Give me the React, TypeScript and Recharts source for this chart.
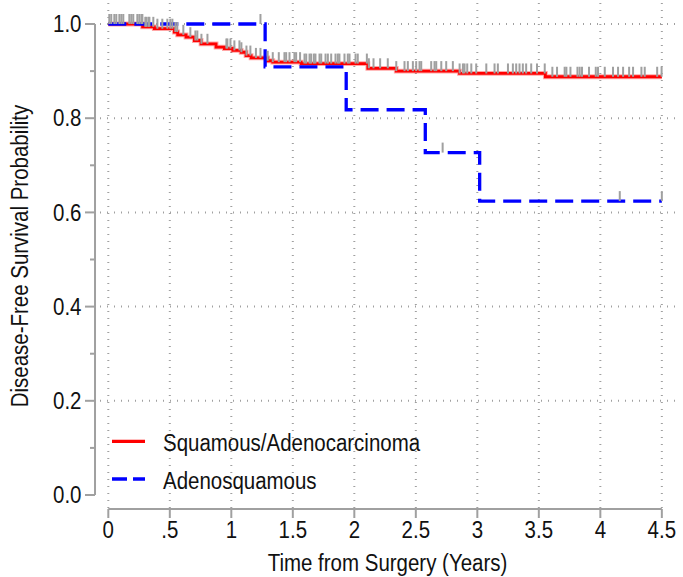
import React from "react";
import {
  ComposedChart,
  Line,
  Scatter,
  XAxis,
  YAxis,
  CartesianGrid,
  ReferenceLine,
  Legend,
} from "recharts";

// Kaplan-Meier steps (time in years, survival)
const RED_STEP_T = [0, 0.279, 0.374, 0.537, 0.564, 0.632, 0.7, 0.754, 0.876, 0.944, 1.012, 1.08, 1.12, 1.161, 1.296, 1.337, 1.568, 2.11, 2.341, 2.855, 3.553, 4.5];
const RED_STEP_S = [1.0, 0.994, 0.99, 0.983, 0.977, 0.972, 0.965, 0.958, 0.951, 0.948, 0.944, 0.94, 0.933, 0.928, 0.922, 0.919, 0.916, 0.906, 0.9, 0.895, 0.888, 0.888];

const BLUE_STEP_T = [0, 1.275, 1.934, 2.577, 3.019, 4.5];
const BLUE_STEP_S = [1.0, 0.909, 0.818, 0.727, 0.624, 0.624];

// censored observations
const RED_CENSOR_T = [
  0.008, 0.024, 0.049, 0.065, 0.09, 0.106, 0.122, 0.171, 0.187, 0.203, 0.236, 0.252, 0.269, 0.277,
  0.301, 0.309, 0.326, 0.334, 0.366, 0.399, 0.439, 0.48, 0.504, 0.521, 0.545, 0.561, 0.61, 0.667,
  0.708, 0.724, 0.757, 0.806, 0.96, 0.968, 0.993, 1.025, 1.066, 1.082, 1.123, 1.155,
  1.2, 1.237, 1.296, 1.337, 1.386, 1.432, 1.446, 1.473, 1.513, 1.527, 1.559, 1.595, 1.609, 1.636,
  1.649, 1.671, 1.684, 1.717, 1.731, 1.766, 1.785, 1.812, 1.847, 1.866, 1.879, 1.92, 1.947, 1.961,
  2.01, 2.028, 2.102, 2.118, 2.156, 2.21, 2.272, 2.341,
  2.408, 2.435, 2.476, 2.503, 2.53, 2.544, 2.625, 2.652, 2.666, 2.707, 2.747, 2.801, 2.856, 2.883,
  2.896, 2.918, 2.951, 2.991, 3.073, 3.14, 3.167, 3.249, 3.289, 3.316, 3.343, 3.37, 3.397, 3.438,
  3.485, 3.548, 3.61, 3.648, 3.71, 3.724, 3.757, 3.814, 3.832, 3.851, 3.908, 3.963, 3.981, 4.036,
  4.103, 4.144, 4.185, 4.234, 4.266, 4.334, 4.361, 4.462, 4.498,
];
const BLUE_CENSOR_T = [1.237, 2.718, 4.158, 4.5];

const X_TICKS = [0, 0.5, 1, 1.5, 2, 2.5, 3, 3.5, 4, 4.5];
const Y_TICKS = [0, 0.1, 0.2, 0.3, 0.4, 0.5, 0.6, 0.7, 0.8, 0.9, 1.0];
const Y_GRID = [0.2, 0.4, 0.6, 0.8, 1.0];

const SERIES = [
  { name: "Squamous/Adenocarcinoma", color: "#ff0000", dash: "" },
  { name: "Adenosquamous", color: "#0000ff", dash: "15 6" },
];

const X_DOMAIN = [-0.0675, 4.607];
const Y_DOMAIN = [-0.0297, 1.0446];
const Y_AXIS_AT = -0.108; // y axis sits left of the plot region
const AXIS_GRAY = "#a0a0a0";
const FONT = '"Liberation Sans", Arial, sans-serif';
const FONT_SIZE = 23;
const SQUEEZE = 0.89;

const toPoints = (ts: number[], ss: number[]) => ts.map((t, i) => ({ t, s: ss[i] }));

const survAt = (ts: number[], ss: number[], t: number) => {
  let v = ss[0];
  for (let i = 0; i < ts.length; i++) if (ts[i] <= t) v = ss[i];
  return v;
};

const redCurve = toPoints(RED_STEP_T, RED_STEP_S);
const blueCurve = toPoints(BLUE_STEP_T, BLUE_STEP_S);
const redCensor = RED_CENSOR_T.map((t) => ({ t, s: survAt(RED_STEP_T, RED_STEP_S, t) }));
const blueCensor = BLUE_CENSOR_T.map((t) => ({ t, s: survAt(BLUE_STEP_T, BLUE_STEP_S, t) }));

function CText({ x, y, anchor = "middle", rotate = 0, children }: any) {
  const tf = `translate(${x},${y})${rotate ? ` rotate(${rotate})` : ""} scale(${SQUEEZE},1)`;
  return (
    <text transform={tf} textAnchor={anchor} fontSize={FONT_SIZE} fontFamily={FONT} fill="#111">
      {children}
    </text>
  );
}

function YTick({ x, y, payload }: any) {
  const v = payload.value;
  const major = Math.round(v * 10) % 2 === 0;
  const ax = x - 5;
  return (
    <g>
      <line x1={ax - (major ? 10 : 5)} x2={ax} y1={y} y2={y} stroke={AXIS_GRAY} strokeWidth={2} />
      {major && <CText x={ax - 13.5} y={y + 8.2} anchor="end">{v.toFixed(1)}</CText>}
    </g>
  );
}

function XTick({ x, y, payload }: any) {
  const label = String(payload.value).replace(/^0\./, ".");
  return <CText x={x} y={y + 20.3}>{label}</CText>;
}

function YTitle({ viewBox }: any) {
  return (
    <CText x={viewBox.x + 28} y={viewBox.y + viewBox.height / 2} rotate={-90}>
      Disease-Free Survival Probability
    </CText>
  );
}

function XTitle({ viewBox }: any) {
  return (
    <CText x={viewBox.x + viewBox.width / 2} y={viewBox.y + 62}>
      Time from Surgery (Years)
    </CText>
  );
}

function KmLegend() {
  return (
    <svg width={360} height={80}>
      {SERIES.map((s, i) => {
        const cy = 21.3 + i * 37.7;
        return (
          <g key={s.name}>
            <line x1={12} x2={45} y1={cy} y2={cy} stroke={s.color} strokeWidth={3.3} strokeDasharray={s.dash || undefined} />
            <CText x={63} y={cy + 10} anchor="start">{s.name}</CText>
          </g>
        );
      })}
    </svg>
  );
}

const censorMark = (p: any) => (
  <rect x={p.cx - 1} y={p.cy - 10} width={2} height={10} fill={AXIS_GRAY} />
);

export default function App() {
  return (
    <div style={{ position: "absolute", left: 0, top: 0, background: "#fff" }}>
      <ComposedChart width={683} height={577} margin={{ top: 3, right: 8, bottom: 0, left: 0 }}>
        <CartesianGrid
          stroke={AXIS_GRAY}
          strokeWidth={2}
          strokeDasharray="1 6"
          horizontalValues={Y_GRID}
          verticalValues={X_TICKS}
        />
        <XAxis
          type="number"
          dataKey="t"
          domain={X_DOMAIN}
          allowDataOverflow
          ticks={X_TICKS}
          interval={0}
          axisLine={false}
          tickSize={9}
          tickMargin={0}
          tickLine={{ stroke: AXIS_GRAY, strokeWidth: 2 }}
          tick={<XTick />}
          height={68}
          label={<XTitle />}
        />
        <YAxis
          type="number"
          domain={Y_DOMAIN}
          allowDataOverflow
          ticks={Y_TICKS}
          interval={0}
          axisLine={false}
          tickLine={false}
          tickSize={0}
          tickMargin={0}
          tick={<YTick />}
          width={100}
          label={<YTitle />}
        />
        <ReferenceLine
          segment={[{ x: Y_AXIS_AT, y: 0 }, { x: Y_AXIS_AT, y: 1 }]}
          stroke={AXIS_GRAY}
          strokeWidth={2}
          ifOverflow="visible"
        />
        <ReferenceLine
          segment={[{ x: 0, y: Y_DOMAIN[0] }, { x: 4.5, y: Y_DOMAIN[0] }]}
          stroke={AXIS_GRAY}
          strokeWidth={2}
          ifOverflow="visible"
        />
        <Line data={redCurve} dataKey="s" type="stepAfter" stroke="#ff0000" strokeOpacity={0.35} strokeWidth={4.8} dot={false} activeDot={false} isAnimationActive={false} />
        <Line data={redCurve} dataKey="s" type="stepAfter" stroke="#ff0000" strokeWidth={2.8} dot={false} activeDot={false} isAnimationActive={false} />
        <Line data={blueCurve} dataKey="s" type="stepAfter" stroke="#0000ff" strokeWidth={3.3} strokeDasharray="18 8" dot={false} activeDot={false} isAnimationActive={false} />
        <Scatter data={redCensor} dataKey="s" shape={censorMark} isAnimationActive={false} />
        <Scatter data={blueCensor} dataKey="s" shape={censorMark} isAnimationActive={false} />
        <Legend
          layout="vertical"
          align="center"
          verticalAlign="middle"
          content={<KmLegend />}
          wrapperStyle={{ left: 100, top: 420, width: 360, height: 80 }}
        />
      </ComposedChart>
    </div>
  );
}
